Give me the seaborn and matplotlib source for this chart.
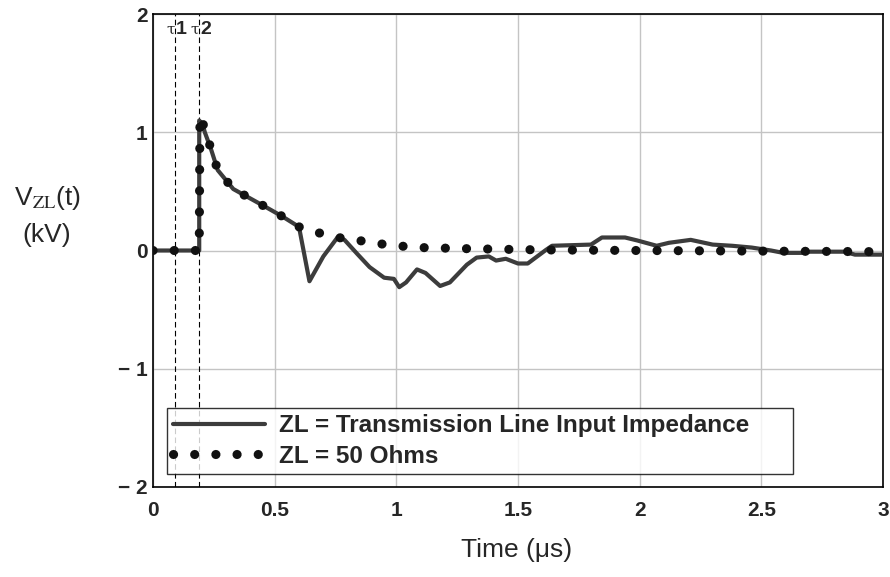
import numpy as np
import pandas as pd
import seaborn as sns
import matplotlib.pyplot as plt

# ZL = 50 Ohms (dotted)
t_50 = [0.0, 0.19, 0.193, 0.213, 0.238, 0.266, 0.33, 0.40, 0.47, 0.53, 0.60, 0.68,
        0.76, 0.845, 0.92, 1.0, 1.1, 1.3, 1.6, 2.0, 2.5, 3.0]
v_50 = [0.0, 0.0, 1.14, 1.03, 0.86, 0.68, 0.52, 0.44, 0.36, 0.29, 0.20, 0.15,
        0.11, 0.085, 0.06, 0.04, 0.025, 0.015, 0.005, 0.0, -0.005, -0.01]

# ZL = transmission line input impedance (solid)
t_tl = [0.0, 0.19, 0.19, 0.205, 0.213, 0.238, 0.266, 0.33, 0.40, 0.47, 0.53, 0.60,
        0.643, 0.70, 0.758, 0.787, 0.84, 0.89, 0.95, 0.99, 1.012, 1.04, 1.085, 1.12,
        1.18, 1.22, 1.29, 1.33, 1.38, 1.41, 1.45, 1.50, 1.54, 1.615, 1.64, 1.80,
        1.845, 1.94, 1.99, 2.07, 2.12, 2.21, 2.30, 2.38, 2.46, 2.54, 2.59, 2.68,
        2.70, 2.84, 2.885, 3.0]
v_tl = [0.0, 0.0, 1.1, 1.06, 1.0, 0.86, 0.68, 0.52, 0.44, 0.36, 0.29, 0.20,
        -0.26, -0.05, 0.11, 0.09, -0.03, -0.14, -0.23, -0.24, -0.31, -0.27, -0.16, -0.19,
        -0.30, -0.27, -0.12, -0.06, -0.05, -0.085, -0.07, -0.11, -0.11, 0.005, 0.04, 0.05,
        0.11, 0.11, 0.085, 0.04, 0.065, 0.09, 0.05, 0.04, 0.025, 0.0, -0.02, -0.02,
        -0.01, -0.01, -0.035, -0.035]

tau_marks = [0.09, 0.19]
tau_names = ["1", "2"]

df_tl = pd.DataFrame({"t": t_tl, "v": v_tl})
df_50 = pd.DataFrame({"t": t_50, "v": v_50})

sns.set_style("white")
plt.rcParams["font.family"] = ["Liberation Sans", "DejaVu Sans"]
plt.rcParams["mathtext.fontset"] = "stix"

fig = plt.figure(figsize=(8.9, 5.77), dpi=100)
ax = fig.add_axes([0.1719, 0.156, 0.8202, 0.8197])

sns.lineplot(data=df_tl, x="t", y="v", ax=ax, color="#3c3c3c", lw=3.0,
             sort=False, estimator=None, label="ZL = Transmission Line Input Impedance",
             zorder=3)
sns.lineplot(data=df_50, x="t", y="v", ax=ax, color="#111111", lw=6.6,
             sort=False, estimator=None, label="ZL = 50 Ohms",
             linestyle=(0, (0.01, 2.3)), dash_capstyle="round", zorder=4)

for tm, nm in zip(tau_marks, tau_names):
    ax.axvline(tm, color="black", lw=0.8, ls=(0, (5, 3)), zorder=2)
    ax.text(tm, 1.87, "τ", ha="right", va="center", fontsize=11, family="DejaVu Serif")
    ax.text(tm + 0.004, 1.87, nm, ha="left", va="center", fontsize=14, fontweight="bold")

ax.set_xlim(0, 3)
ax.set_ylim(-2, 2)
ax.set_xticks([0, 0.5, 1, 1.5, 2, 2.5, 3])
ax.set_xticklabels(["0", "0.5", "1", "1.5", "2", "2.5", "3"])
ax.set_yticks([-2, -1, 0, 1, 2])
ax.set_yticklabels(["\u2212 2", "\u2212 1", "0", "1", "2"])
ax.tick_params(length=0, labelsize=15)
ax.tick_params(axis="x", pad=10)
ax.tick_params(axis="y", pad=4)
for lab in ax.get_xticklabels() + ax.get_yticklabels():
    lab.set_fontweight("bold")
ax.grid(True, color="#c4c4c4", lw=1.0)
ax.set_axisbelow(True)
for s in ax.spines.values():
    s.set_visible(True)
    s.set_color("black")
    s.set_linewidth(1.2)
ax.set_xlabel("")
ax.set_ylabel("")

leg = ax.legend(loc="lower left", bbox_to_anchor=(0.019, 0.028, 0.858, 0.1), mode="expand",
                frameon=True, fancybox=False, edgecolor="black", handlelength=3.8,
                prop={"weight": "bold", "size": 17.5}, borderpad=0.25,
                borderaxespad=0, labelspacing=0.3, handletextpad=0.55)
leg.get_frame().set_linewidth(1.0)

fig.text(0.053, 0.627, "V$_{\\mathrm{ZL}}$(t)\n(kV)", ha="center", va="center",
         fontsize=19, linespacing=1.6)
fig.text(0.58, 0.047, "Time (μs)", ha="center", va="center", fontsize=19)

fig.savefig("out.png", dpi=100)
